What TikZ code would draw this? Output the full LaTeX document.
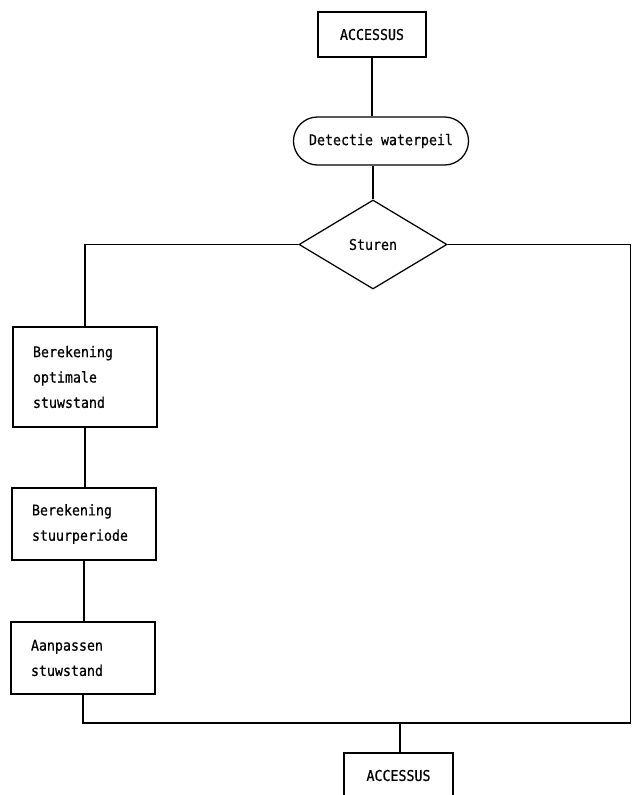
\documentclass[tikz,border=0pt]{standalone}
\usepackage{fontspec}
\setmonofont[FakeStretch=0.9,FakeBold=0.6]{DejaVu Sans Mono}
\usetikzlibrary{shapes.geometric,shapes.misc}

\begin{document}
\begin{tikzpicture}[x=0.025cm,y=-0.025cm,line width=0.9pt,
    every node/.style={font=\ttfamily\fontsize{10.5}{18}\selectfont},
    box/.style={draw,rectangle,inner sep=0pt},
    stapbox/.style={draw,rectangle,text width=2.6cm,align=left,inner xsep=0.5cm,inner ysep=0pt},
    term/.style={draw,rounded rectangle,inner sep=0pt,minimum width=4.375cm,minimum height=1.2cm},
    keuze/.style={draw,diamond,inner sep=0pt,minimum width=3.7cm,minimum height=2.225cm}]
  \useasboundingbox (0,0) rectangle (631,795);
  \node[box,minimum width=2.7cm,minimum height=1.125cm] (acc1) at (372,34.5) {ACCESSUS};
  \node[term] (detect) at (381,141) {Detectie waterpeil};
  \node[keuze] (sturen) at (373,244.5) {Sturen};
  \node[stapbox,minimum height=2.5cm] (opt) at (85,377) {Berekening\\optimale\\stuwstand};
  \node[stapbox,minimum height=1.8cm] (periode) at (84,524) {Berekening\\stuurperiode};
  \node[stapbox,minimum height=1.8cm] (aanpas) at (83,658) {Aanpassen\\stuwstand};
  \node[box,minimum width=2.725cm,minimum height=1.125cm] (acc2) at (398.5,775.5) {ACCESSUS};
  \coordinate (ro) at (630.5,723);
  \coordinate (samen) at (400,723);
  \draw (acc1.south) -- (acc1.south |- detect.north);
  \draw (sturen.north |- detect.south) -- (sturen.north);
  \draw (sturen.west) -| (opt.north);
  \draw (sturen.east) -| (ro);
  \draw (opt.south) -- (opt.south |- periode.north);
  \draw (periode.south) -- (periode.south |- aanpas.north);
  \draw (aanpas.south) |- (ro);
  \draw (samen) -- (samen |- acc2.north);
\end{tikzpicture}
\end{document}
